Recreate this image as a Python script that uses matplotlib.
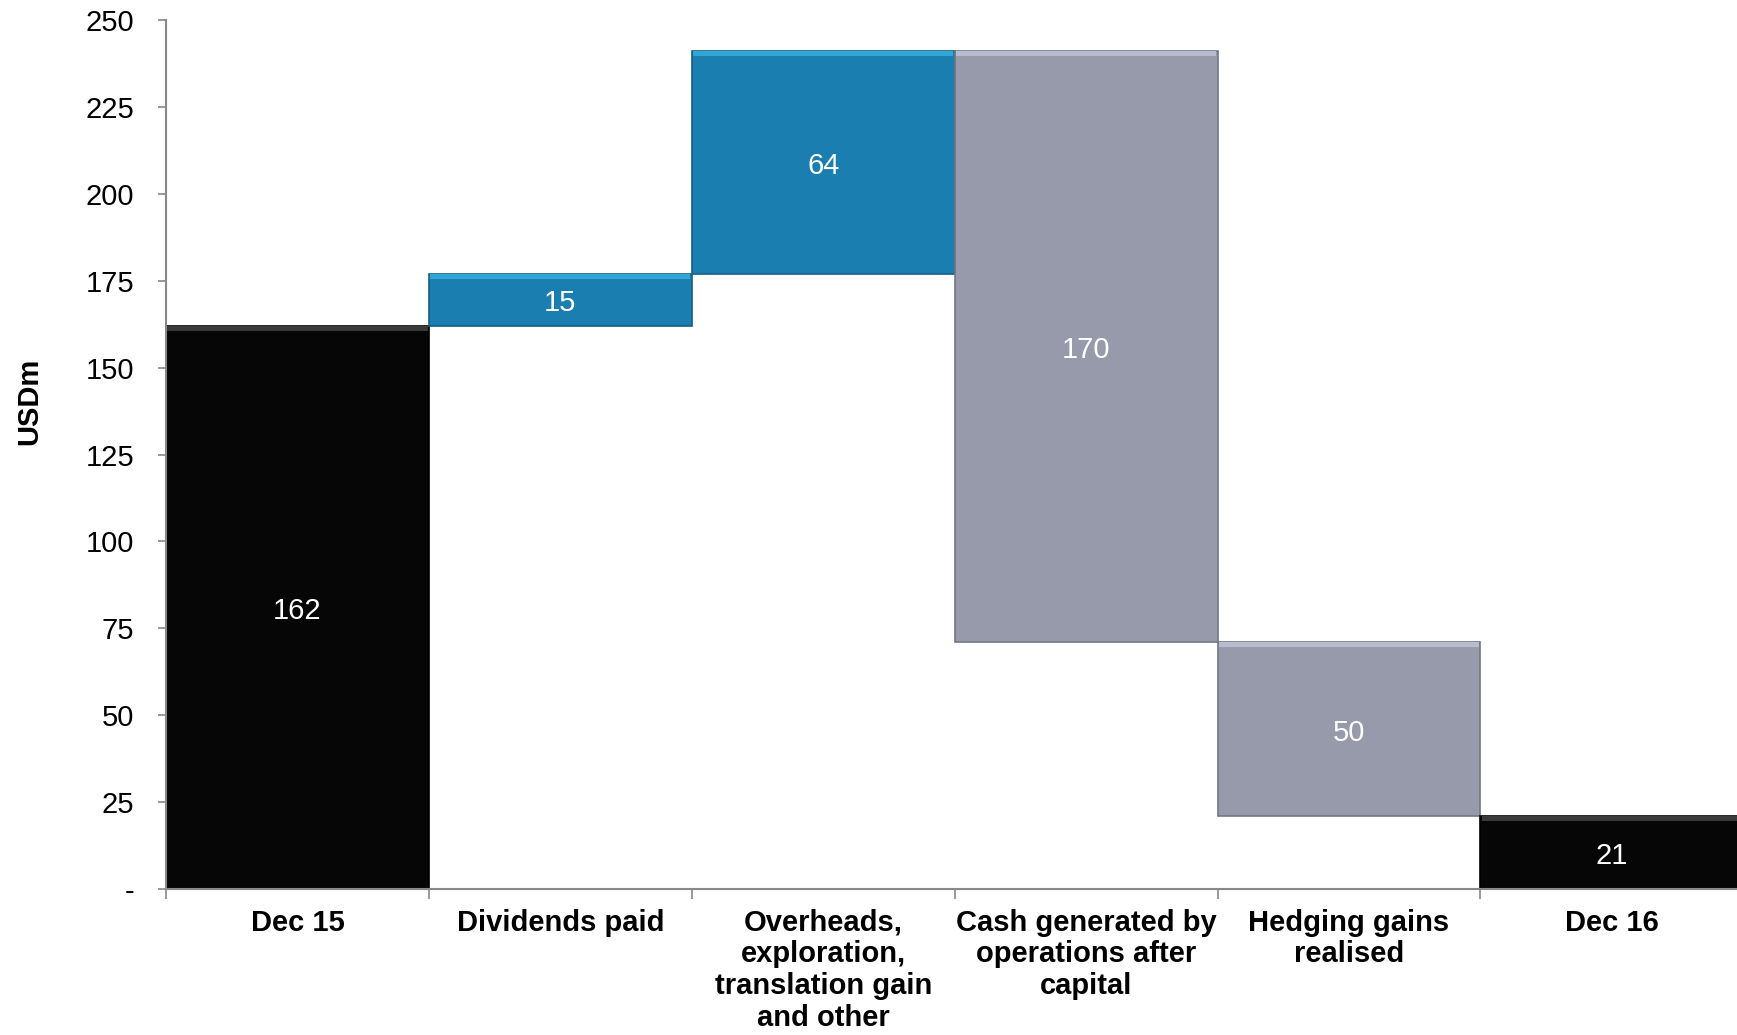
import numpy as np
import matplotlib.pyplot as plt

plt.rcParams['font.family'] = ['Liberation Sans', 'DejaVu Sans']

categories = ['Dec 15', 'Dividends paid', 'Overheads,\nexploration,\ntranslation gain\nand other',
              'Cash generated by\noperations after\ncapital', 'Hedging gains\nrealised', 'Dec 16']
changes = [162, 15, 64, -170, -50, 21]
kinds = ['total', 'step', 'step', 'step', 'step', 'total']
y_ticks = [0, 25, 50, 75, 100, 125, 150, 175, 200, 225, 250]
y_tick_labels = ['-', '25', '50', '75', '100', '125', '150', '175', '200', '225', '250']

# fill / highlight / shade per bar
fills = ['#060606', '#1a7fb0', '#1a7fb0', '#979aab', '#979aab', '#060606']
lights = ['#3a3a3a', '#31a6d6', '#31a6d6', '#b8bccf', '#b8bccf', '#3a3a3a']
shades = ['#000000', '#135f85', '#135f85', '#727585', '#727585', '#000000']

# running waterfall bottoms/tops
bottoms, heights = [], []
level = 0
for c, k in zip(changes, kinds):
    if k == 'total':
        bottoms.append(0)
        heights.append(c)
        level = c
    else:
        new = level + c
        bottoms.append(min(level, new))
        heights.append(abs(c))
        level = new
bottoms = np.array(bottoms, dtype=float)
heights = np.array(heights, dtype=float)

fig = plt.figure(figsize=(17.37, 10.35), dpi=100)
ax = fig.add_axes([0.0956, 0.141, 0.908, 0.8397])

x = np.arange(len(categories))
ax.bar(x, heights, bottom=bottoms, width=1.0, color=fills,
       edgecolor=shades, linewidth=1.2, zorder=2)
# bevel highlight along the top edge
strip = 1.5
ax.bar(x, np.full(len(x), strip), bottom=bottoms + heights - strip, width=0.99,
       color=lights, linewidth=0, zorder=3)

for xi, b, h, c in zip(x, bottoms, heights, changes):
    ax.text(xi, b + h / 2 - 1.0, str(abs(c)), ha='center', va='center',
            color='white', fontsize=21, zorder=4)

ax.set_xlim(-0.5, len(categories) - 0.5)
ax.set_ylim(0, 250)
ax.set_yticks(y_ticks)
ax.set_yticklabels(y_tick_labels)
ax.set_xticks(x)
ax.set_xticklabels(categories, fontweight='bold', linespacing=1.17)
ax.set_xticks(np.arange(len(categories) + 1) - 0.5, minor=True)

ax.tick_params(axis='y', which='major', direction='out', length=6, width=1.2,
               color='#888888', labelsize=21, pad=17)
ax.tick_params(axis='x', which='major', length=0, labelsize=21, pad=14)
ax.tick_params(axis='x', which='minor', direction='out', length=7, width=1.2,
               color='#888888')

for side in ['top', 'right']:
    ax.spines[side].set_visible(False)
for side in ['left', 'bottom']:
    ax.spines[side].set_color('#888888')
    ax.spines[side].set_linewidth(1.5)

fig.text(0.017, 0.612, 'USDm', rotation=90, ha='center', va='center',
         fontsize=21, fontweight='bold')

fig.savefig('out.png', dpi=100)
